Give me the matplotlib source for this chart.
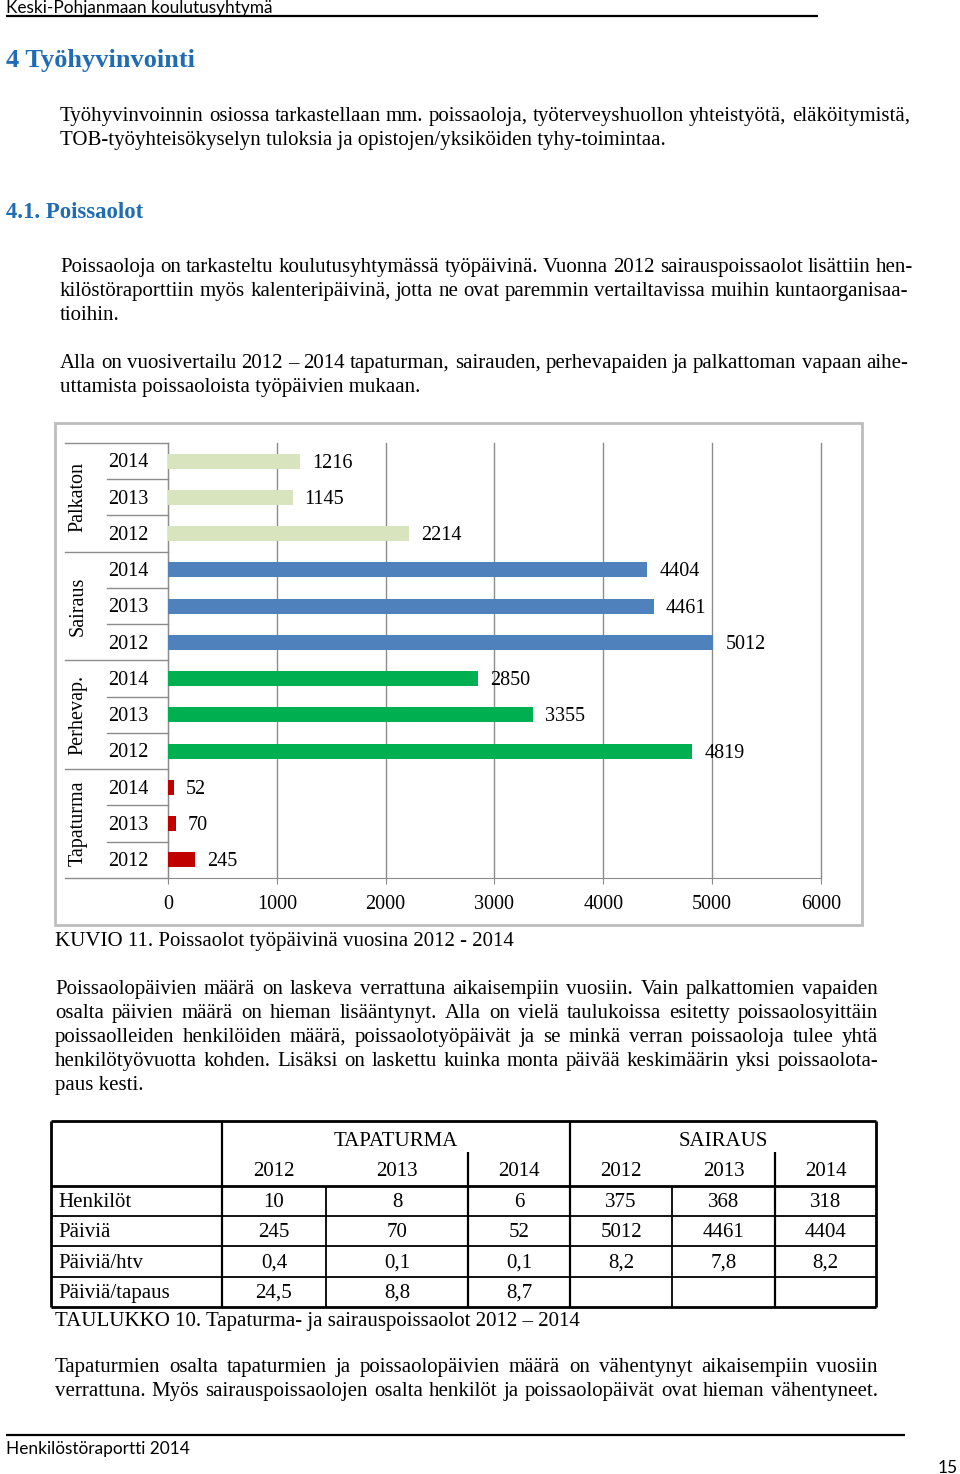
import matplotlib
matplotlib.use('Agg')
import matplotlib.pyplot as plt
from matplotlib.lines import Line2D
from matplotlib.patches import Rectangle
from matplotlib.transforms import blended_transform_factory

# chart data (rows bottom -> top)
groups = ['Tapaturma', 'Perhevap.', 'Sairaus', 'Palkaton']
years = ['2012', '2013', '2014']
tapaturma = [245, 70, 52]
perhevap = [4819, 3355, 2850]
sairaus = [5012, 4461, 4404]
palkaton = [2214, 1145, 1216]
group_colors = ['#C00000', '#00B050', '#4F81BD', '#D7E4BD']

# table data
row_labels = ['Henkilöt', 'Päiviä', 'Päiviä/htv', 'Päiviä/tapaus']
tap_cells = [['10', '8', '6'], ['245', '70', '52'], ['0,4', '0,1', '0,1'], ['24,5', '8,8', '8,7']]
sai_cells = [['375', '368', '318'], ['5012', '4461', '4404'], ['8,2', '7,8', '8,2'], ['', '', '']]

W, H = 960, 1474
SERIF = ['Liberation Serif', 'DejaVu Serif']
SANS = ['Lato', 'DejaVu Sans']
BLUE = '#1F6CB4'
BODY = 15

fig = plt.figure(figsize=(W / 100, H / 100), dpi=100)
renderer = fig.canvas.get_renderer()


def put(x, y, s, **kw):
    kw.setdefault('family', SERIF)
    kw.setdefault('va', 'baseline')
    return fig.text(x / W, 1 - y / H, s, **kw)


def hline(x0, x1, y, lw=1.0, color='black'):
    fig.add_artist(Line2D([x0 / W, x1 / W], [1 - y / H] * 2, transform=fig.transFigure,
                          color=color, lw=lw, solid_capstyle='butt'))


def vline(x, y0, y1, lw=1.0, color='black'):
    fig.add_artist(Line2D([x / W] * 2, [1 - y0 / H, 1 - y1 / H], transform=fig.transFigure,
                          color=color, lw=lw, solid_capstyle='butt'))


def width_of(s, size):
    t = fig.text(0, 0, s, family=SERIF, fontsize=size)
    w = t.get_window_extent(renderer).width
    t.remove()
    return w


def justify(line, x0, x1, y, size=BODY):
    words = line.split()
    ws = [width_of(w, size) for w in words]
    gap = (x1 - x0 - sum(ws)) / (len(words) - 1)
    x = x0
    for w, wd in zip(words, ws):
        put(x, y, w, fontsize=size)
        x += wd + gap


# page header / footer
put(6, 13, 'Keski-Pohjanmaan koulutusyhtymä', family=SANS, fontsize=12.4)
hline(6, 818, 16, lw=1.6)
hline(6, 905, 1435, lw=1.6)
put(6, 1454, 'Henkilöstöraportti 2014', family=SANS, fontsize=12.4)
put(958, 1473, '15', family=SANS, fontsize=12.5, ha='right')

# headings
put(6, 67, '4 Työhyvinvointi', fontsize=19, weight='bold', color=BLUE)
put(6, 218, '4.1. Poissaolot', fontsize=16.4, weight='bold', color=BLUE)

# body text
justify('Työhyvinvoinnin osiossa tarkastellaan mm. poissaoloja, työterveyshuollon yhteistyötä, eläköitymistä,',
        60, 910, 121)
put(60, 145, 'TOB-työyhteisökyselyn tuloksia ja opistojen/yksiköiden tyhy-toimintaa.', fontsize=BODY)
justify('Poissaoloja on tarkasteltu koulutusyhtymässä työpäivinä. Vuonna 2012 sairauspoissaolot lisättiin hen-',
        60, 913, 272)
justify('kilöstöraporttiin myös kalenteripäivinä, jotta ne ovat paremmin vertailtavissa muihin kuntaorganisaa-',
        60, 908, 296)
put(60, 320, 'tioihin.', fontsize=BODY)
justify('Alla on vuosivertailu 2012 – 2014 tapaturman, sairauden, perhevapaiden ja palkattoman vapaan aihe-',
        60, 908, 368)
put(60, 392, 'uttamista poissaoloista työpäivien mukaan.', fontsize=BODY)

put(55, 946, 'KUVIO 11. Poissaolot työpäivinä vuosina 2012 - 2014', fontsize=BODY)
justify('Poissaolopäivien määrä on laskeva verrattuna aikaisempiin vuosiin. Vain palkattomien vapaiden',
        55, 878, 994)
justify('osalta päivien määrä on hieman lisääntynyt.  Alla on vielä taulukoissa esitetty poissaolosyittäin',
        55, 878, 1018)
justify('poissaolleiden henkilöiden määrä, poissaolotyöpäivät ja se minkä verran poissaoloja tulee yhtä',
        55, 878, 1042)
justify('henkilötyövuotta kohden. Lisäksi on laskettu kuinka monta päivää keskimäärin yksi poissaolota-',
        55, 878, 1066)
put(55, 1090, 'paus kesti.', fontsize=BODY)

put(55, 1326, 'TAULUKKO 10. Tapaturma- ja sairauspoissaolot 2012 – 2014', fontsize=BODY)
justify('Tapaturmien osalta tapaturmien ja poissaolopäivien määrä on vähentynyt aikaisempiin vuosiin',
        55, 878, 1372)
justify('verrattuna. Myös sairauspoissaolojen osalta henkilöt ja poissaolopäivät ovat hieman vähentyneet.',
        55, 878, 1396)

# ---- chart ----
fig.add_artist(Rectangle((55 / W, 1 - 925 / H), (862 - 55) / W, (925 - 423) / H,
                         transform=fig.transFigure, fill=False, ec='#BDBDBD', lw=2))
ax = fig.add_axes([168 / W, 1 - 878 / H, (821 - 168) / W, (878 - 443) / H])
series = [tapaturma, perhevap, sairaus, palkaton]
GRID = '#8C8C8C'
CH = 14.5
pos = 0
for g, vals in enumerate(series):
    idx = list(range(pos, pos + len(vals)))
    ax.barh(idx, vals, height=0.42, color=group_colors[g], zorder=3)
    for i, v in zip(idx, vals):
        ax.annotate(str(v), (v, i), xytext=(12, -2), textcoords='offset pixels',
                    va='center', ha='left', family=SERIF, fontsize=CH)
    pos += len(vals)

n = pos
ax.set_xlim(0, 6000)
ax.set_ylim(-0.5, n - 0.5)
ax.set_xticks(range(0, 7000, 1000))
ax.set_xticklabels([str(t) for t in range(0, 7000, 1000)], family=SERIF, fontsize=CH)
ax.tick_params(axis='x', length=4, color=GRID, pad=8)
ax.set_yticks([])
ax.grid(axis='x', color=GRID, lw=1, zorder=0)
for gl in ax.get_xgridlines():
    gl.set_clip_on(False)
for s in ['top', 'right']:
    ax.spines[s].set_visible(False)
ax.spines['left'].set_color(GRID)
ax.spines['bottom'].set_color(GRID)

tr = blended_transform_factory(fig.transFigure, ax.transData)
pos = 0
for g, vals in enumerate(series):
    for k in range(len(vals)):
        ax.text(128 / W, pos + k - 0.05, years[k], transform=tr, ha='center', va='center',
                family=SERIF, fontsize=CH)
        if k > 0:
            ax.add_line(Line2D([107 / W, 168 / W], [pos + k - 0.5] * 2, transform=tr,
                               color=GRID, lw=1, clip_on=False))
    ax.text(78 / W, pos + (len(vals) - 1) / 2, groups[g], transform=tr, rotation=90,
            ha='center', va='center', family=SERIF, fontsize=CH)
    ax.add_line(Line2D([65 / W, 168 / W], [pos - 0.5] * 2, transform=tr,
                       color=GRID, lw=1, clip_on=False))
    pos += len(vals)
ax.add_line(Line2D([65 / W, 168 / W], [pos - 0.5] * 2, transform=tr,
                   color=GRID, lw=1, clip_on=False))

# ---- table ----
cols = [51, 222, 326, 468, 570, 672, 775, 876]
rows = [1121, 1186, 1216, 1246, 1277, 1307]
TS = 15
hline(cols[0], cols[-1], rows[0], lw=2)
hline(cols[0], cols[-1], rows[-1], lw=2)
hline(cols[0], cols[-1], rows[1], lw=2)
for r in rows[2:-1]:
    hline(cols[0], cols[-1], r, lw=1.3)
vline(cols[0], rows[0], rows[-1], lw=2)
vline(cols[-1], rows[0], rows[-1], lw=2)
for c in [cols[1], cols[4]]:
    vline(c, rows[0], rows[-1], lw=1.6)
for c in [cols[3], cols[6]]:
    vline(c, 1152, rows[-1], lw=1.6)
for c in [cols[2], cols[5]]:
    vline(c, rows[1], rows[-1], lw=1.3)

put((cols[1] + cols[4]) / 2, 1146, 'TAPATURMA', ha='center', fontsize=TS)
put((cols[4] + cols[7]) / 2, 1146, 'SAIRAUS', ha='center', fontsize=TS)
for j in range(3):
    put((cols[1 + j] + cols[2 + j]) / 2, 1176, years[j], ha='center', fontsize=TS)
    put((cols[4 + j] + cols[5 + j]) / 2, 1176, years[j], ha='center', fontsize=TS)
for i, lab in enumerate(row_labels):
    yb = (rows[i + 1] + rows[i + 2]) / 2 + 6
    put(58, yb, lab, fontsize=TS)
    for j in range(3):
        put((cols[1 + j] + cols[2 + j]) / 2, yb, tap_cells[i][j], ha='center', fontsize=TS)
        put((cols[4 + j] + cols[5 + j]) / 2, yb, sai_cells[i][j], ha='center', fontsize=TS)

fig.savefig('out.png', dpi=100, facecolor='white')
